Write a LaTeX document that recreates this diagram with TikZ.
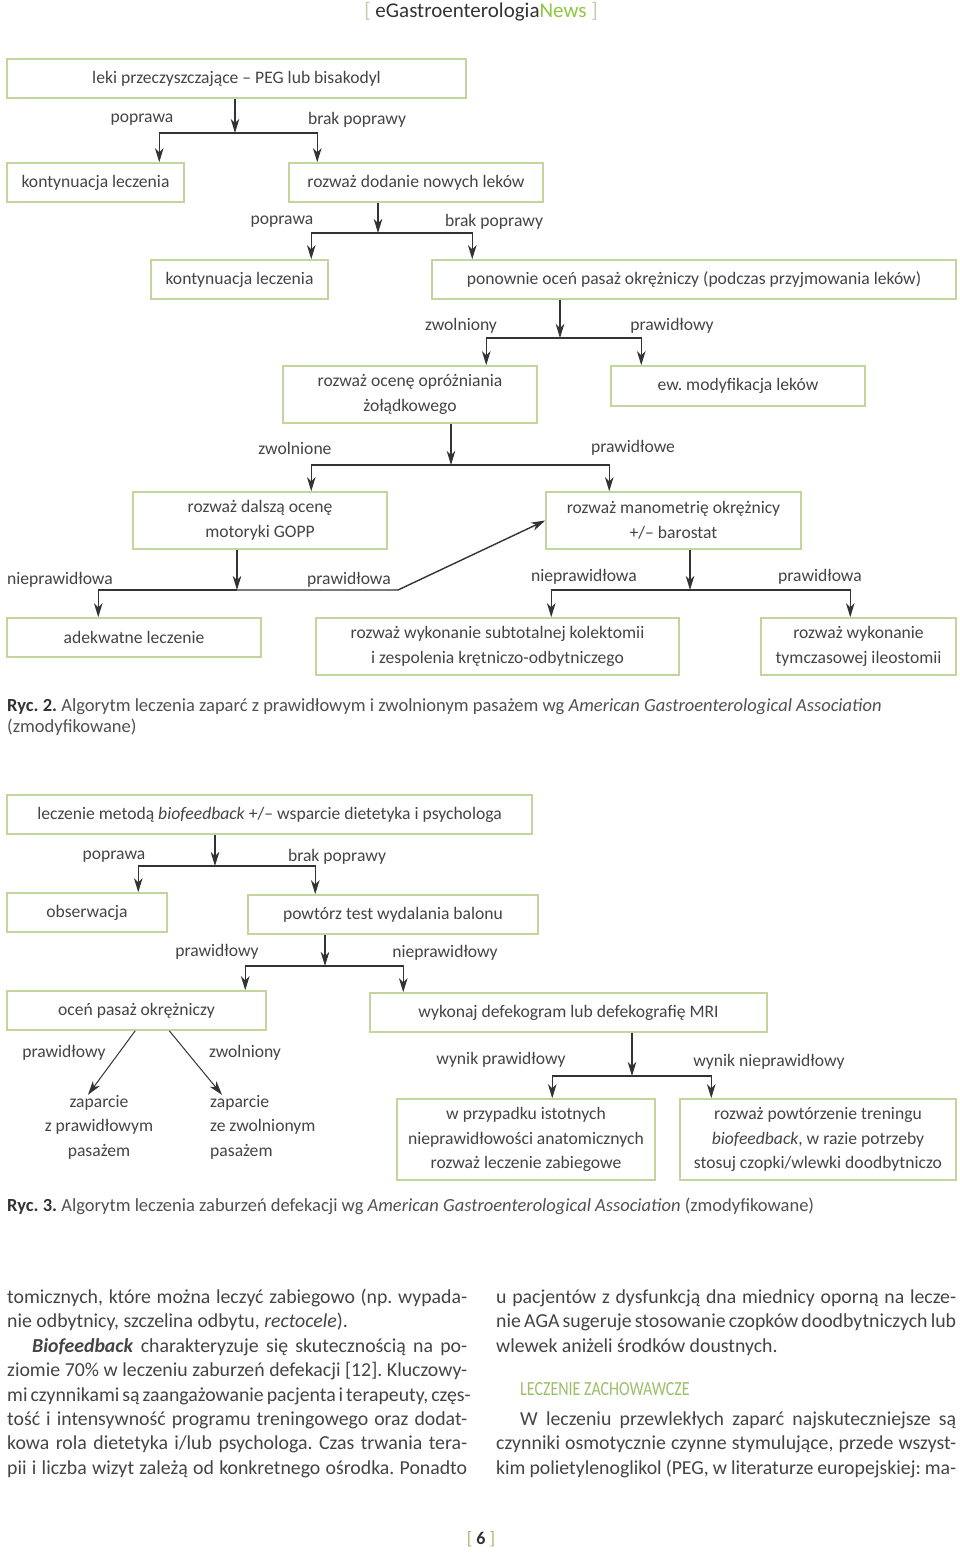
\documentclass[tikz,border=0pt]{standalone}
\usepackage{fontspec}
\setmainfont{Carlito}
\usetikzlibrary{arrows.meta}
\frenchspacing
\definecolor{boxgreen}{HTML}{C2D59C}
\definecolor{lin}{HTML}{333333}
\definecolor{txt}{HTML}{444444}
\definecolor{captxt}{HTML}{505050}
\definecolor{headgreen}{HTML}{9CBF68}
\definecolor{newsgreen}{HTML}{8DC63F}
\definecolor{brk}{HTML}{C3CCA8}
\newcommand\bxf{\fontsize{17.6pt}{24.5pt}\selectfont}
\newcommand\capf{\fontsize{18.5pt}{21pt}\selectfont}
\newcommand\bodyf{\fontsize{19.8pt}{24.4pt}\selectfont}
\tikzset{
  bx/.style={draw=boxgreen, line width=1.5pt, inner sep=0pt, align=center, font=\bxf, text=txt},
  lbl/.style={inner sep=0pt, font=\bxf, text=txt, yshift=-2pt},
  arr/.style={draw=lin, line width=1.4pt, line join=miter, -{Stealth[length=14pt,width=8.5pt,inset=4pt]}},
  thinarr/.style={draw=lin, line width=1pt, -{Stealth[length=14pt,width=8.5pt,inset=4pt]}},
  capt/.style={inner sep=0pt, anchor=base west, font=\capf, text=captxt},
  body/.style={inner sep=0pt, anchor=base west, font=\bodyf, text=txt},
}
\begin{document}
\begin{tikzpicture}[x=1pt,y=-1pt]
\fill[white] (0,0) rectangle (960,1553);
\useasboundingbox (0,0) rectangle (960,1553);

% header
\node[inner sep=0pt, anchor=base, font=\fontsize{21pt}{22pt}\selectfont] (hdr) at (481,17)
  {\textcolor{brk}{[}\ \textcolor{lin}{eGastroenterologia}\textcolor{newsgreen}{News}\ \textcolor{brk}{]}};

% ---------------- Figure 2 ----------------
\node[bx, minimum width=459pt, minimum height=39pt] (b1) at (236.5,78.5) {leki przeczyszczające – PEG lub bisakodyl};
\node[bx, minimum width=177pt, minimum height=39pt] (b2) at (95.5,182.5) {kontynuacja leczenia};
\node[bx, minimum width=254pt, minimum height=39pt] (b3) at (416,182.5) {rozważ dodanie nowych leków};
\node[bx, minimum width=177pt, minimum height=39pt] (b4) at (239.5,279.5) {kontynuacja leczenia};
\node[bx, minimum width=524pt, minimum height=39pt] (b5) at (694,279.5) {ponownie oceń pasaż okrężniczy (podczas przyjmowania leków)};
\node[bx, minimum width=254pt, minimum height=57pt] (b6) at (410,394.5) {rozważ ocenę opróżniania\\żołądkowego};
\node[bx, minimum width=254pt, minimum height=40pt] (b7) at (738,386) {ew. modyfikacja leków};
\node[bx, minimum width=254pt, minimum height=57pt] (b8) at (260,520.5) {rozważ dalszą ocenę\\motoryki GOPP};
\node[bx, minimum width=255pt, minimum height=57pt] (b9) at (673.5,520.5) {rozważ manometrię okrężnicy\\+/– barostat};
\node[bx, minimum width=254pt, minimum height=39pt] (b10) at (134,637.5) {adekwatne leczenie};
\node[bx, minimum width=363pt, minimum height=57pt] (b11) at (497.5,646.5) {rozważ wykonanie subtotalnej kolektomii\\i zespolenia krętniczo-odbytniczego};
\node[bx, minimum width=195pt, minimum height=57pt] (b12) at (858.5,646.5) {rozważ wykonanie\\tymczasowej ileostomii};

% labels
\node[lbl] (l1) at (142,118) {poprawa};
\node[lbl] (l2) at (357,118) {brak poprawy};
\node[lbl] (l3) at (282,220) {poprawa};
\node[lbl] (l4) at (494,220) {brak poprawy};
\node[lbl] (l5) at (461,324) {zwolniony};
\node[lbl] (l6) at (672,324) {prawidłowy};
\node[lbl] (l7) at (295,446) {zwolnione};
\node[lbl] (l8) at (633,446) {prawidłowe};
\node[lbl] (l9) at (60,578) {nieprawidłowa};
\node[lbl] (l10) at (349,578) {prawidłowa};
\node[lbl] (l11) at (584,575) {nieprawidłowa};
\node[lbl] (l12) at (820,575) {prawidłowa};

% connectors
\coordinate (j1) at (235,133);
\coordinate (j2) at (378,233);
\coordinate (j3) at (560,338);
\coordinate (j4) at (451,465);
\coordinate (j5) at (237,590);
\coordinate (k5) at (398,590);
\coordinate (j6) at (690,590);

\draw[arr] (b1.south -| j1) -- (j1);
\draw[arr] (j1) -| ([xshift=153pt]b2.north west);
\draw[arr] (j1) -| ([xshift=29pt]b3.north west);

\draw[arr] (b3.south -| j2) -- (j2);
\draw[arr] (j2) -| ([xshift=161pt]b4.north west);
\draw[arr] (j2) -| ([xshift=41pt]b5.north west);

\draw[arr] (b5.south -| j3) -- (j3);
\draw[arr] (j3) -| ([xshift=204pt]b6.north west);
\draw[arr] (j3) -| ([xshift=31pt]b7.north west);

\draw[arr] (b6.south -| j4) -- (j4);
\draw[arr] (j4) -| ([xshift=179pt]b8.north west);
\draw[arr] (j4) -| ([xshift=64pt]b9.north west);

\draw[arr] (b8.south -| j5) -- (j5);
\draw[arr] (j5) -| ([xshift=92pt]b10.north west);
\draw[arr] (j5) -- (k5) -- (b9.west);

\draw[arr] (b9.south -| j6) -- (j6);
\draw[arr] (j6) -| ([xshift=236pt]b11.north west);
\draw[arr] (j6) -| ([xshift=90pt]b12.north west);

% caption 2
\node[capt] (c2a) at (7,711) {\textbf{\color{lin}Ryc. 2.} Algorytm leczenia zaparć z prawidłowym i zwolnionym pasażem wg \textit{American Gastroenterological Association}};
\node[capt] (c2b) at (7,732) {(zmodyfikowane)};

% ---------------- Figure 3 ----------------
\node[bx, minimum width=525pt, minimum height=39pt] (bA) at (269.5,814.5) {leczenie metodą \textit{biofeedback} +/– wsparcie dietetyka i psychologa};
\node[bx, minimum width=160pt, minimum height=39pt] (bB) at (87,912.5) {obserwacja};
\node[bx, minimum width=290pt, minimum height=39pt] (bC) at (393,914.5) {powtórz test wydalania balonu};
\node[bx, minimum width=259pt, minimum height=39pt] (bD) at (136.5,1010.5) {oceń pasaż okrężniczy};
\node[bx, minimum width=397pt, minimum height=39pt] (bE) at (568.5,1012.5) {wykonaj defekogram lub defekografię MRI};
\node[bx, minimum width=258pt, minimum height=81pt] (bF) at (526,1139.5) {w przypadku istotnych\\nieprawidłowości anatomicznych\\rozważ leczenie zabiegowe};
\node[bx, minimum width=276pt, minimum height=81pt] (bG) at (818,1139.5) {rozważ powtórzenie treningu\\\textit{biofeedback}, w razie potrzeby\\stosuj czopki/wlewki doodbytniczo};
\node[lbl, align=center] (tA) at (99,1125) {zaparcie\\z prawidłowym\\pasażem};
\node[lbl, align=left, anchor=west] (tB) at (210,1125) {zaparcie\\ze zwolnionym\\pasażem};

\node[lbl] (m1) at (114,855) {poprawa};
\node[lbl] (m2) at (337,855) {brak poprawy};
\node[lbl] (m3) at (217,950) {prawidłowy};
\node[lbl] (m4) at (445,951) {nieprawidłowy};
\node[lbl] (m5) at (64,1051) {prawidłowy};
\node[lbl] (m6) at (245,1051) {zwolniony};
\node[lbl] (m7) at (501,1058) {wynik prawidłowy};
\node[lbl] (m8) at (769,1060) {wynik nieprawidłowy};

\coordinate (jA) at (215,866);
\coordinate (jB) at (325,966);
\coordinate (jC) at (632,1076);

\draw[arr] (bA.south -| jA) -- (jA);
\draw[arr] (jA) -| ([xshift=132pt]bB.north west);
\draw[arr] (jA) -| ([xshift=68pt]bC.north west);

\draw[arr] (bC.south -| jB) -- (jB);
\draw[arr] (jB) -| ([xshift=239pt]bD.north west);
\draw[arr] (jB) -| ([xshift=34pt]bE.north west);

\draw[thinarr] ([xshift=129pt]bD.south west) -- ([xshift=-11pt,yshift=0pt]tA.north);
\draw[thinarr] ([xshift=163pt]bD.south west) -- ([xshift=12pt,yshift=0pt]tB.north west);

\draw[arr] (bE.south -| jC) -- (jC);
\draw[arr] (jC) -| ([xshift=156pt]bF.north west);
\draw[arr] (jC) -| ([xshift=32pt]bG.north west);

% caption 3
\node[capt] (c3) at (7,1211) {\textbf{\color{lin}Ryc. 3.} Algorytm leczenia zaburzeń defekacji wg \textit{American Gastroenterological Association} (zmodyfikowane)};

% ---------------- body text ----------------
\node[body] (p1) at (7,1303) {\makebox[460pt][s]{tomicznych, które można leczyć zabiegowo (np. wypada-}};
\node[body] (p2) at (7,1327) {nie odbytnicy, szczelina odbytu, \textit{rectocele}).};
\node[body] (p3) at (32,1352) {\makebox[435pt][s]{\textbf{\textit{Biofeedback}} charakteryzuje się skutecznością na po-}};
\node[body] (p4) at (7,1376) {\makebox[460pt][s]{ziomie 70\% w leczeniu zaburzeń defekacji [12]. Kluczowy-}};
\node[body] (p5) at (7,1401) {\makebox[460pt][s]{mi czynnikami są zaangażowanie pacjenta i terapeuty, częs-}};
\node[body] (p6) at (7,1425) {\makebox[460pt][s]{tość i intensywność programu treningowego oraz dodat-}};
\node[body] (p7) at (7,1449) {\makebox[460pt][s]{kowa rola dietetyka i/lub psychologa. Czas trwania tera-}};
\node[body] (p8) at (7,1474) {\makebox[460pt][s]{pii i liczba wizyt zależą od konkretnego ośrodka. Ponadto}};

\node[body] (q1) at (496,1303) {\makebox[460pt][s]{u pacjentów z dysfunkcją dna miednicy oporną na lecze-}};
\node[body] (q2) at (496,1327) {\makebox[460pt][s]{nie AGA sugeruje stosowanie czopków doodbytniczych lub}};
\node[body] (q3) at (496,1352) {wlewek aniżeli środków doustnych.};
\node[body, font=\fontsize{20pt}{22pt}\selectfont, text=headgreen] (qh) at (520,1395) {\scalebox{0.8}[1]{LECZENIE ZACHOWAWCZE}};
\node[body] (q4) at (520,1425) {\makebox[436pt][s]{W leczeniu przewlekłych zaparć najskuteczniejsze są}};
\node[body] (q5) at (496,1449) {\makebox[460pt][s]{czynniki osmotycznie czynne stymulujące, przede wszyst-}};
\node[body] (q6) at (496,1474) {\makebox[460pt][s]{kim polietylenoglikol (PEG, w literaturze europejskiej: ma-}};

% page number
\node[inner sep=0pt, anchor=base, font=\fontsize{18pt}{20pt}\selectfont] (pg) at (481,1544)
  {\textcolor{headgreen}{[}\ \textcolor{lin}{\textbf{6}}\ \textcolor{headgreen}{]}};
\end{tikzpicture}
\end{document}
